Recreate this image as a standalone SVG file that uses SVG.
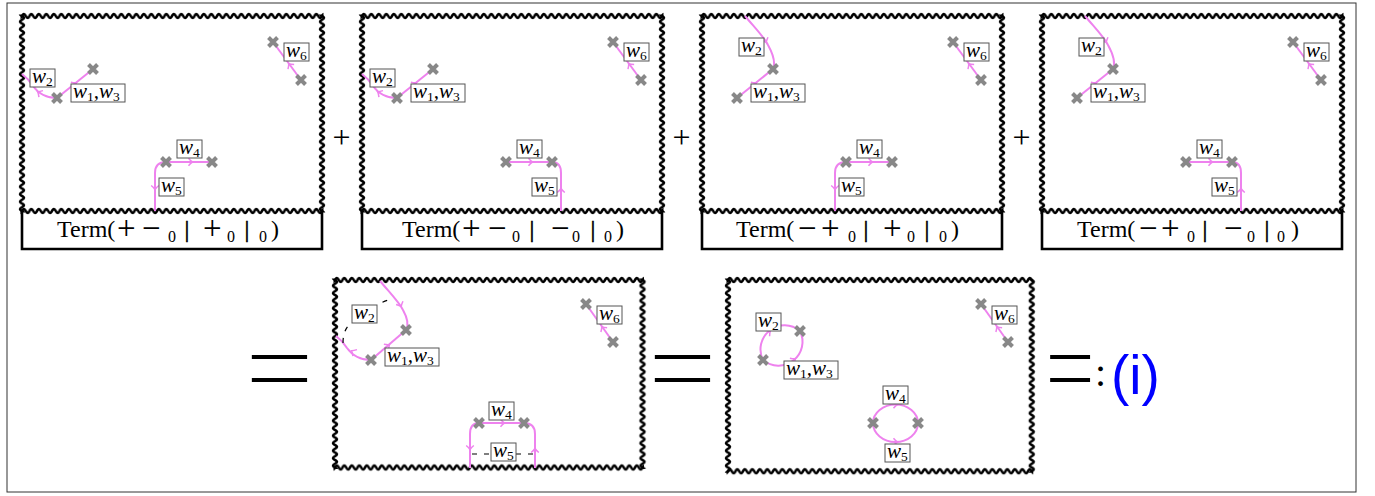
<svg xmlns="http://www.w3.org/2000/svg" xmlns:xlink="http://www.w3.org/1999/xlink" width="1375" height="496" viewBox="0 0 1375 496">
<style>
.pk{fill:none;stroke:violet;stroke-width:2}
.ah{fill:none;stroke:violet;stroke-width:1.5}
.lb{fill:#fff;stroke:#555;stroke-width:1}
.w{font-family:"Liberation Serif",serif;font-style:italic;font-size:21px}
.s{font-style:normal;font-size:13.5px}
.tm{font-family:"Liberation Serif",serif;font-size:24px}
.t0{font-size:16px}
.pm{font-size:33px}
.bar{stroke:#000;stroke-width:0.6}
.bx{fill:none;stroke:#000;stroke-width:2.6}
.ds{fill:none;stroke:#000;stroke-width:1.2;stroke-dasharray:5 7}
.op{font-family:"Liberation Serif",serif}
.eq{font-family:"Liberation Serif",serif;font-size:117px;stroke:#fff;stroke-width:1.8}
</style>
<defs>
<pattern id="wv" patternUnits="userSpaceOnUse" width="7.5" height="10" y="-5">
<path d="M-3.75,5 Q-1.875,8.8 0,5 Q1.875,1.2 3.75,5 T7.5,5 T11.25,5" fill="none" stroke="#000" stroke-width="2.6"/>
</pattern>
<path id="cx" d="M-4.5,-4.5L4.5,4.5M-4.5,4.5L4.5,-4.5" stroke="#888" stroke-width="4"/>
<path id="ah" d="M-3.5,-3.8 Q-1.2,-1 0.5,0 Q-1.2,1 -3.5,3.8" class="ah"/>
<g id="wfT">
<rect x="-1.5" y="-5" width="303" height="10" fill="url(#wv)"/>
<rect x="-1.5" y="-5" width="303" height="10" fill="url(#wv)" transform="translate(0,195)"/>
<rect x="-1.5" y="-5" width="198" height="10" fill="url(#wv)" transform="rotate(90)"/>
<rect x="-1.5" y="-5" width="198" height="10" fill="url(#wv)" transform="translate(300,0) rotate(90)"/>
</g>
</defs>
<rect x="0" y="0" width="1375" height="496" fill="#fff"/>
<rect x="7" y="3" width="1349" height="489" fill="none" stroke="#333" stroke-width="1"/>

<g id="panel1">
<use xlink:href="#wfT" transform="translate(22,16)"/>
<path class="bx" d="M22,211 V249 H322 V211"/>
<path class="pk" d="M301,80 L273,42"/><use xlink:href="#ah" transform="translate(289,64) rotate(-126)"/>
<path class="pk" d="M57,98 L93,69"/><use xlink:href="#ah" transform="translate(76,83) rotate(-39)"/>
<path class="pk" d="M57,98 C46,98 38,93 33,86 C30,81 26,77 22,74"/><use xlink:href="#ah" transform="translate(38,92) rotate(-148)"/>
<path class="pk" d="M166,162 H212"/><use xlink:href="#ah" transform="translate(192,162)"/>
<path class="pk" d="M166,162 Q155,162 155,173 V211"/><use xlink:href="#ah" transform="translate(155,189) rotate(90)"/>
<use xlink:href="#cx" x="93" y="69"/><use xlink:href="#cx" x="57" y="98"/><use xlink:href="#cx" x="273" y="42"/><use xlink:href="#cx" x="301" y="80"/><use xlink:href="#cx" x="166" y="162"/><use xlink:href="#cx" x="212" y="162"/>
<rect class="lb" x="30" y="69" width="25" height="18"/><text class="w" x="32" y="83">w<tspan class="s" dy="3">2</tspan></text>
<rect class="lb" x="71" y="84" width="54" height="18"/><text class="w" x="73" y="98">w<tspan class="s" dy="3">1</tspan><tspan dy="-3">,w</tspan><tspan class="s" dy="3">3</tspan></text>
<rect class="lb" x="284" y="43" width="25" height="18"/><text class="w" x="286" y="57">w<tspan class="s" dy="3">6</tspan></text>
<rect class="lb" x="177" y="140" width="25" height="18"/><text class="w" x="179" y="154">w<tspan class="s" dy="3">4</tspan></text>
<rect class="lb" x="159" y="178" width="25" height="18"/><text class="w" x="161" y="192">w<tspan class="s" dy="3">5</tspan></text>
<text class="tm" y="237"><tspan x="57">Term(</tspan><tspan class="pm" x="117" y="239">+</tspan><tspan class="pm" x="142">−</tspan><tspan class="t0" x="168" y="242">0</tspan><tspan class="bar" x="184.6" y="237">|</tspan><tspan class="pm" x="203" y="239">+</tspan><tspan class="t0" x="227" y="242">0</tspan><tspan class="bar" x="244.6" y="237">|</tspan><tspan class="t0" x="259" y="242">0</tspan><tspan x="271" y="237">)</tspan></text>
</g>

<g id="panel2">
<use xlink:href="#wfT" transform="translate(362,16)"/>
<path class="bx" d="M362,211 V249 H662 V211"/>
<path class="pk" d="M641,80 L613,42"/><use xlink:href="#ah" transform="translate(629,64) rotate(-126)"/>
<path class="pk" d="M397,98 L433,69"/><use xlink:href="#ah" transform="translate(416,83) rotate(-39)"/>
<path class="pk" d="M397,98 C386,98 378,93 373,86 C370,81 366,77 362,74"/><use xlink:href="#ah" transform="translate(378,92) rotate(-148)"/>
<path class="pk" d="M506,162 H552"/><use xlink:href="#ah" transform="translate(532,162)"/>
<path class="pk" d="M552,162 Q561,162 561,173 V211"/><use xlink:href="#ah" transform="translate(561,189) rotate(-90)"/>
<use xlink:href="#cx" x="433" y="69"/><use xlink:href="#cx" x="397" y="98"/><use xlink:href="#cx" x="613" y="42"/><use xlink:href="#cx" x="641" y="80"/><use xlink:href="#cx" x="506" y="162"/><use xlink:href="#cx" x="552" y="162"/>
<rect class="lb" x="370" y="69" width="25" height="18"/><text class="w" x="372" y="83">w<tspan class="s" dy="3">2</tspan></text>
<rect class="lb" x="411" y="84" width="54" height="18"/><text class="w" x="413" y="98">w<tspan class="s" dy="3">1</tspan><tspan dy="-3">,w</tspan><tspan class="s" dy="3">3</tspan></text>
<rect class="lb" x="624" y="43" width="25" height="18"/><text class="w" x="626" y="57">w<tspan class="s" dy="3">6</tspan></text>
<rect class="lb" x="517" y="140" width="25" height="18"/><text class="w" x="519" y="154">w<tspan class="s" dy="3">4</tspan></text>
<rect class="lb" x="532" y="178" width="25" height="18"/><text class="w" x="534" y="192">w<tspan class="s" dy="3">5</tspan></text>
<text class="tm" y="237"><tspan x="402">Term(</tspan><tspan class="pm" x="462" y="239">+</tspan><tspan class="pm" x="488">−</tspan><tspan class="t0" x="512" y="242">0</tspan><tspan class="bar" x="529.6" y="237">|</tspan><tspan class="pm" x="551" y="239">−</tspan><tspan class="t0" x="572" y="242">0</tspan><tspan class="bar" x="590.6" y="237">|</tspan><tspan class="t0" x="604" y="242">0</tspan><tspan x="616" y="237">)</tspan></text>
</g>

<g id="panel3">
<use xlink:href="#wfT" transform="translate(702,16)"/>
<path class="bx" d="M702,211 V249 H1002 V211"/>
<path class="pk" d="M981,80 L953,42"/><use xlink:href="#ah" transform="translate(969,64) rotate(-126)"/>
<path class="pk" d="M737,98 L773,69"/><use xlink:href="#ah" transform="translate(756,83) rotate(-39)"/>
<path class="pk" d="M745,16 C755,28 764,37 768,45 C773,54 776,62 773,69"/><use xlink:href="#ah" transform="translate(766,42) rotate(65)"/>
<path class="pk" d="M846,162 H892"/><use xlink:href="#ah" transform="translate(872,162)"/>
<path class="pk" d="M846,162 Q835,162 835,173 V211"/><use xlink:href="#ah" transform="translate(835,189) rotate(90)"/>
<use xlink:href="#cx" x="773" y="69"/><use xlink:href="#cx" x="737" y="98"/><use xlink:href="#cx" x="953" y="42"/><use xlink:href="#cx" x="981" y="80"/><use xlink:href="#cx" x="846" y="162"/><use xlink:href="#cx" x="892" y="162"/>
<rect class="lb" x="739" y="38" width="25" height="18"/><text class="w" x="741" y="52">w<tspan class="s" dy="3">2</tspan></text>
<rect class="lb" x="751" y="84" width="54" height="18"/><text class="w" x="753" y="98">w<tspan class="s" dy="3">1</tspan><tspan dy="-3">,w</tspan><tspan class="s" dy="3">3</tspan></text>
<rect class="lb" x="964" y="43" width="25" height="18"/><text class="w" x="966" y="57">w<tspan class="s" dy="3">6</tspan></text>
<rect class="lb" x="857" y="140" width="25" height="18"/><text class="w" x="859" y="154">w<tspan class="s" dy="3">4</tspan></text>
<rect class="lb" x="839" y="178" width="25" height="18"/><text class="w" x="841" y="192">w<tspan class="s" dy="3">5</tspan></text>
<text class="tm" y="237"><tspan x="736">Term(</tspan><tspan class="pm" x="798" y="239">−</tspan><tspan class="pm" x="821">+</tspan><tspan class="t0" x="848" y="242">0</tspan><tspan class="bar" x="863.6" y="237">|</tspan><tspan class="pm" x="883" y="239">+</tspan><tspan class="t0" x="907" y="242">0</tspan><tspan class="bar" x="924.6" y="237">|</tspan><tspan class="t0" x="939" y="242">0</tspan><tspan x="951" y="237">)</tspan></text>
</g>

<g id="panel4">
<use xlink:href="#wfT" transform="translate(1042,16)"/>
<path class="bx" d="M1042,211 V249 H1342 V211"/>
<path class="pk" d="M1321,80 L1293,42"/><use xlink:href="#ah" transform="translate(1309,64) rotate(-126)"/>
<path class="pk" d="M1077,98 L1113,69"/><use xlink:href="#ah" transform="translate(1096,83) rotate(-39)"/>
<path class="pk" d="M1085,16 C1095,28 1104,37 1108,45 C1113,54 1116,62 1113,69"/><use xlink:href="#ah" transform="translate(1106,42) rotate(65)"/>
<path class="pk" d="M1186,162 H1232"/><use xlink:href="#ah" transform="translate(1212,162)"/>
<path class="pk" d="M1232,162 Q1241,162 1241,173 V211"/><use xlink:href="#ah" transform="translate(1241,189) rotate(-90)"/>
<use xlink:href="#cx" x="1113" y="69"/><use xlink:href="#cx" x="1077" y="98"/><use xlink:href="#cx" x="1293" y="42"/><use xlink:href="#cx" x="1321" y="80"/><use xlink:href="#cx" x="1186" y="162"/><use xlink:href="#cx" x="1232" y="162"/>
<rect class="lb" x="1079" y="38" width="25" height="18"/><text class="w" x="1081" y="52">w<tspan class="s" dy="3">2</tspan></text>
<rect class="lb" x="1091" y="84" width="54" height="18"/><text class="w" x="1093" y="98">w<tspan class="s" dy="3">1</tspan><tspan dy="-3">,w</tspan><tspan class="s" dy="3">3</tspan></text>
<rect class="lb" x="1304" y="43" width="25" height="18"/><text class="w" x="1306" y="57">w<tspan class="s" dy="3">6</tspan></text>
<rect class="lb" x="1197" y="140" width="25" height="18"/><text class="w" x="1199" y="154">w<tspan class="s" dy="3">4</tspan></text>
<rect class="lb" x="1212" y="178" width="25" height="18"/><text class="w" x="1214" y="192">w<tspan class="s" dy="3">5</tspan></text>
<text class="tm" y="237"><tspan x="1077">Term(</tspan><tspan class="pm" x="1139" y="239">−</tspan><tspan class="pm" x="1161">+</tspan><tspan class="t0" x="1187" y="242">0</tspan><tspan class="bar" x="1202.6" y="237">|</tspan><tspan class="pm" x="1224" y="239">−</tspan><tspan class="t0" x="1247" y="242">0</tspan><tspan class="bar" x="1264.6" y="237">|</tspan><tspan class="t0" x="1277" y="242">0</tspan><tspan x="1291" y="237">)</tspan></text>
</g>

<g id="panel5">
<g transform="translate(335,280)">
<rect x="-1.5" y="-5" width="310.5" height="10" fill="url(#wv)"/>
<rect x="-1.5" y="-5" width="310.5" height="10" fill="url(#wv)" transform="translate(0,187.5)"/>
<rect x="-1.5" y="-5" width="190.5" height="10" fill="url(#wv)" transform="rotate(90)"/>
<rect x="-1.5" y="-5" width="190.5" height="10" fill="url(#wv)" transform="translate(307.5,0) rotate(90)"/>
</g>
<path class="pk" d="M613,342 L586,304"/><use xlink:href="#ah" transform="translate(602,327) rotate(-125)"/>
<path class="pk" d="M380,281 C390,293 399,302 403,310 C408,319 409,325 406,330"/><use xlink:href="#ah" transform="translate(401,306) rotate(65)"/>
<path class="pk" d="M371,360 L406,330"/><use xlink:href="#ah" transform="translate(389,345) rotate(-40)"/>
<path class="pk" d="M371,360 C360,360 352,355 347,348 C344,343 340,339 336,336"/><use xlink:href="#ah" transform="translate(352,351) rotate(-148)"/>
<path class="ds" d="M343,343 C343,333 346,327 352,322 L378,305 C384,301 388,299 393,301"/>
<path class="pk" d="M479,423 H524"/><use xlink:href="#ah" transform="translate(504,423)"/>
<path class="pk" d="M479,423 Q470,423 470,434 V468"/><use xlink:href="#ah" transform="translate(470,449) rotate(90)"/>
<path class="pk" d="M524,423 Q535,423 535,434 V468"/><use xlink:href="#ah" transform="translate(535,449) rotate(-90)"/>
<path class="ds" d="M472,454 H491 M533,454 H516"/>
<use xlink:href="#cx" x="406" y="330"/><use xlink:href="#cx" x="371" y="360"/><use xlink:href="#cx" x="586" y="304"/><use xlink:href="#cx" x="613" y="342"/><use xlink:href="#cx" x="479" y="423"/><use xlink:href="#cx" x="524" y="423"/>
<rect class="lb" x="352" y="305" width="25" height="18"/><text class="w" x="354" y="319">w<tspan class="s" dy="3">2</tspan></text>
<rect class="lb" x="385" y="348" width="54" height="18"/><text class="w" x="387" y="362">w<tspan class="s" dy="3">1</tspan><tspan dy="-3">,w</tspan><tspan class="s" dy="3">3</tspan></text>
<rect class="lb" x="597" y="306" width="25" height="18"/><text class="w" x="599" y="320">w<tspan class="s" dy="3">6</tspan></text>
<rect class="lb" x="489" y="402" width="25" height="18"/><text class="w" x="491" y="416">w<tspan class="s" dy="3">4</tspan></text>
<rect class="lb" x="491" y="443" width="25" height="18"/><text class="w" x="493" y="457">w<tspan class="s" dy="3">5</tspan></text>
</g>

<g id="panel6">
<g transform="translate(728,280)">
<rect x="-1.5" y="-5" width="306.75" height="10" fill="url(#wv)"/>
<rect x="-1.5" y="-5" width="306.75" height="10" fill="url(#wv)" transform="translate(0,191.25)"/>
<rect x="-1.5" y="-5" width="194.25" height="10" fill="url(#wv)" transform="rotate(90)"/>
<rect x="-1.5" y="-5" width="194.25" height="10" fill="url(#wv)" transform="translate(303.75,0) rotate(90)"/>
</g>
<path class="pk" d="M1008,342 L981,304"/><use xlink:href="#ah" transform="translate(997,327) rotate(-125)"/>
<path class="pk" d="M763,360 A24,24 0 0 1 800,331"/><use xlink:href="#ah" transform="translate(770,331) rotate(-38)"/>
<path class="pk" d="M763,360 A24,24 0 0 0 800,331"/><use xlink:href="#ah" transform="translate(795,359) rotate(-38)"/>
<path class="pk" d="M873,423 A22.5,18.5 0 0 1 918,423"/><use xlink:href="#ah" transform="translate(897,404.5)"/>
<path class="pk" d="M873,423 A22.5,19 0 0 0 918,423"/><use xlink:href="#ah" transform="translate(897,442)"/>
<use xlink:href="#cx" x="800" y="331"/><use xlink:href="#cx" x="763" y="360"/><use xlink:href="#cx" x="981" y="304"/><use xlink:href="#cx" x="1008" y="342"/><use xlink:href="#cx" x="873" y="423"/><use xlink:href="#cx" x="918" y="423"/>
<rect class="lb" x="756" y="313" width="25" height="18"/><text class="w" x="758" y="327">w<tspan class="s" dy="3">2</tspan></text>
<rect class="lb" x="784" y="361" width="54" height="18"/><text class="w" x="786" y="375">w<tspan class="s" dy="3">1</tspan><tspan dy="-3">,w</tspan><tspan class="s" dy="3">3</tspan></text>
<rect class="lb" x="992" y="306" width="25" height="18"/><text class="w" x="994" y="320">w<tspan class="s" dy="3">6</tspan></text>
<rect class="lb" x="883" y="386" width="25" height="18"/><text class="w" x="885" y="400">w<tspan class="s" dy="3">4</tspan></text>
<rect class="lb" x="885" y="444" width="25" height="18"/><text class="w" x="887" y="458">w<tspan class="s" dy="3">5</tspan></text>
</g>

<g id="operators">
<text class="op" x="341.5" y="148" font-size="32" text-anchor="middle">+</text>
<text class="op" x="681.5" y="148" font-size="32" text-anchor="middle">+</text>
<text class="op" x="1021.5" y="148" font-size="32" text-anchor="middle">+</text>
<text class="eq" text-anchor="middle" transform="translate(279.5,407) scale(1.05,1)">=</text>
<text class="eq" text-anchor="middle" transform="translate(682.5,407) scale(1.05,1)">=</text>
<text class="eq" transform="translate(1045,407) scale(0.76,1)">=</text>
<text class="op" x="1095" y="386" font-size="40">:</text>
<text x="1111" y="394" font-family="Liberation Sans,sans-serif" font-size="55" fill="#0000ff">(i)</text>
</g>
</svg>
